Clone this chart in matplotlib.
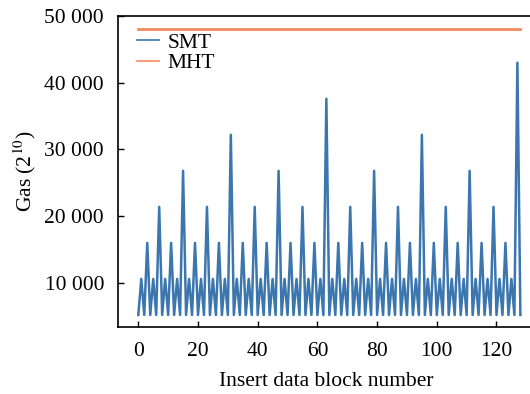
import matplotlib
matplotlib.use("Agg")
import matplotlib.pyplot as plt
from matplotlib.ticker import FuncFormatter

plt.rcParams['font.family'] = ['Liberation Serif', 'DejaVu Serif']
plt.rcParams['mathtext.fontset'] = 'stix'

# Insert data block numbers 0..128
blocks = list(range(129))

smt_gas = [
    5200, 10600, 5200, 16000, 5200, 10600, 5200, 21400, 5200, 10600, 5200, 16000, 5200, 10600, 5200, 26800,
    5200, 10600, 5200, 16000, 5200, 10600, 5200, 21400, 5200, 10600, 5200, 16000, 5200, 10600, 5200, 32200,
    5200, 10600, 5200, 16000, 5200, 10600, 5200, 21400, 5200, 10600, 5200, 16000, 5200, 10600, 5200, 26800,
    5200, 10600, 5200, 16000, 5200, 10600, 5200, 21400, 5200, 10600, 5200, 16000, 5200, 10600, 5200, 37600,
    5200, 10600, 5200, 16000, 5200, 10600, 5200, 21400, 5200, 10600, 5200, 16000, 5200, 10600, 5200, 26800,
    5200, 10600, 5200, 16000, 5200, 10600, 5200, 21400, 5200, 10600, 5200, 16000, 5200, 10600, 5200, 32200,
    5200, 10600, 5200, 16000, 5200, 10600, 5200, 21400, 5200, 10600, 5200, 16000, 5200, 10600, 5200, 26800,
    5200, 10600, 5200, 16000, 5200, 10600, 5200, 21400, 5200, 10600, 5200, 16000, 5200, 10600, 5200, 43000,
    5200,
]

mht_gas = [48000] * 129

x_ticks = [0, 20, 40, 60, 80, 100, 120]
y_ticks = [10000, 20000, 30000, 40000, 50000]

fig = plt.figure(figsize=(5.30, 3.94), dpi=100)
ax = fig.add_axes([118/530, 1 - 327/394, (530-118)/530 + 0.01, (327-16)/394])

ax.plot(blocks, smt_gas, color='#3b76af', lw=1.8, label='SMT')
ax.plot(blocks, mht_gas, color='#f28a5e', lw=2.0, label='MHT')

ax.set_xlim(-6.8, 133)
ax.set_ylim(3400, 50000)
ax.set_xticks(x_ticks)
ax.set_yticks(y_ticks)
ax.yaxis.set_major_formatter(FuncFormatter(lambda v, p: f"{int(v):,}".replace(",", " ")))
ax.tick_params(direction='in', length=4, width=1, labelsize=15.5)
ax.tick_params(axis='x', pad=11)
ax.tick_params(axis='y', pad=10)
for s in ax.spines.values():
    s.set_linewidth(1.2)

ax.set_xlabel('Insert data block number', fontsize=15.5, labelpad=8)
ax.set_ylabel(r'Gas (2$^{10}$)', fontsize=15.5, labelpad=5)

leg = ax.legend(loc='upper left', bbox_to_anchor=(0.01, 0.995), frameon=False, fontsize=15.5,
                handlelength=1.0, handletextpad=0.4, labelspacing=0.02, borderaxespad=0.3)
for h in leg.get_lines():
    h.set_linewidth(1.2)

fig.savefig('out.png', dpi=100)
